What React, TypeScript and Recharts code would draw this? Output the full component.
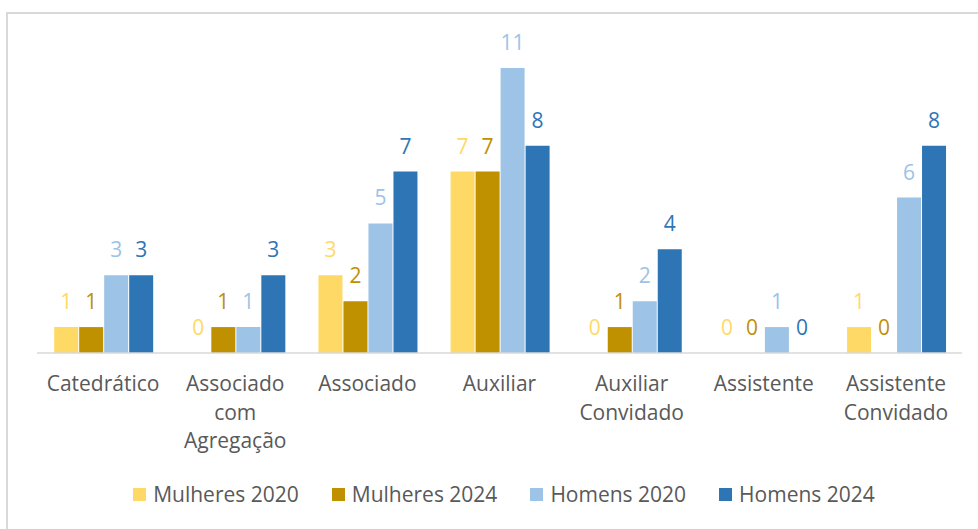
import { BarChart, Bar, XAxis, YAxis, LabelList } from "recharts";

// categories (line breaks as in the original axis labels)
const categories = [
    "Catedrático",
    "Associado\ncom\nAgregação",
    "Associado",
    "Auxiliar",
    "Auxiliar\nConvidado",
    "Assistente",
    "Assistente\nConvidado",
];

const mulheres2020 = [1, 0, 3, 7, 0, 0, 1];
const mulheres2024 = [1, 1, 2, 7, 1, 0, 0];
const homens2020 = [3, 1, 5, 11, 2, 1, 6];
const homens2024 = [3, 3, 7, 8, 4, 0, 8];

const seriesNames = ["Mulheres 2020", "Mulheres 2024", "Homens 2020", "Homens 2024"];
const COLORS = ["#FFD966", "#BF9000", "#9DC3E6", "#2E75B6"];
const TEXT = "#595959";
const FONT = "'Open Sans', Lato, sans-serif";
const FS = 21;

const data = categories.map((c, i) => ({
    name: c,
    m20: mulheres2020[i],
    m24: mulheres2024[i],
    h20: homens2020[i],
    h24: homens2024[i],
}));

const keys = ["m20", "m24", "h20", "h24"];

const CategoryTick = ({ x, y, payload }: any) => {
    const lines = String(payload.value).split("\n");
    return (
        <text x={x} y={y} textAnchor="middle" fill={TEXT} fontSize={FS} fontFamily={FONT}>
            {lines.map((l, i) => (
                <tspan key={i} x={x} dy={i === 0 ? 30 : 28.5}>{l}</tspan>
            ))}
        </text>
    );
};

// value label drawn for every bar, zeros included
const valueLabel = (color: string) => (props: any) => {
    const { x, y, width, value } = props;
    return (
        <text
            x={x + width / 2}
            y={y - 18}
            textAnchor="middle"
            fill={color}
            fontSize={FS}
            fontFamily={FONT}
        >
            {value}
        </text>
    );
};

export default function App() {
    return (
        <div style={{ position: "absolute", left: 0, top: 0, width: 978, height: 529, overflow: "hidden", background: "#fff" }}>
            <div style={{
                position: "absolute", left: 6, top: 12, width: 1000, height: 600,
                borderTop: "2px solid #d9d9d9", borderLeft: "2px solid #d9d9d9"
            }} />
            <div style={{ position: "absolute", left: 0, top: 0 }}>
                <BarChart
                    width={978}
                    height={529}
                    data={data}
                    margin={{ top: 42, right: 16, bottom: 0, left: 37 }}
                    barCategoryGap="13%"
                    barGap={1}
                >
                    <XAxis
                        dataKey="name"
                        interval={0}
                        height={176}
                        tickLine={false}
                        axisLine={{ stroke: "#d9d9d9", strokeWidth: 1.5 }}
                        tick={<CategoryTick />}
                    />
                    <YAxis hide domain={[0, 12]} width={0} />
                    {keys.map((k, i) => (
                        <Bar key={k} dataKey={k} name={seriesNames[i]} fill={COLORS[i]} minPointSize={0.01} isAnimationActive={false}>
                            <LabelList dataKey={k} content={valueLabel(COLORS[i])} />
                        </Bar>
                    ))}
                </BarChart>
            </div>
            <div style={{
                position: "absolute", left: 15, top: 480, width: 978, display: "flex", justifyContent: "center",
                fontFamily: FONT, fontSize: FS, color: TEXT, lineHeight: "28px"
            }}>
                {seriesNames.map((n, i) => (
                    <div key={n} style={{ display: "flex", alignItems: "center", marginLeft: i ? 33 : 0 }}>
                        <span style={{ width: 13, height: 13, background: COLORS[i], display: "inline-block", marginRight: 7 }} />
                        <span>{n}</span>
                    </div>
                ))}
            </div>
        </div>
    );
}
